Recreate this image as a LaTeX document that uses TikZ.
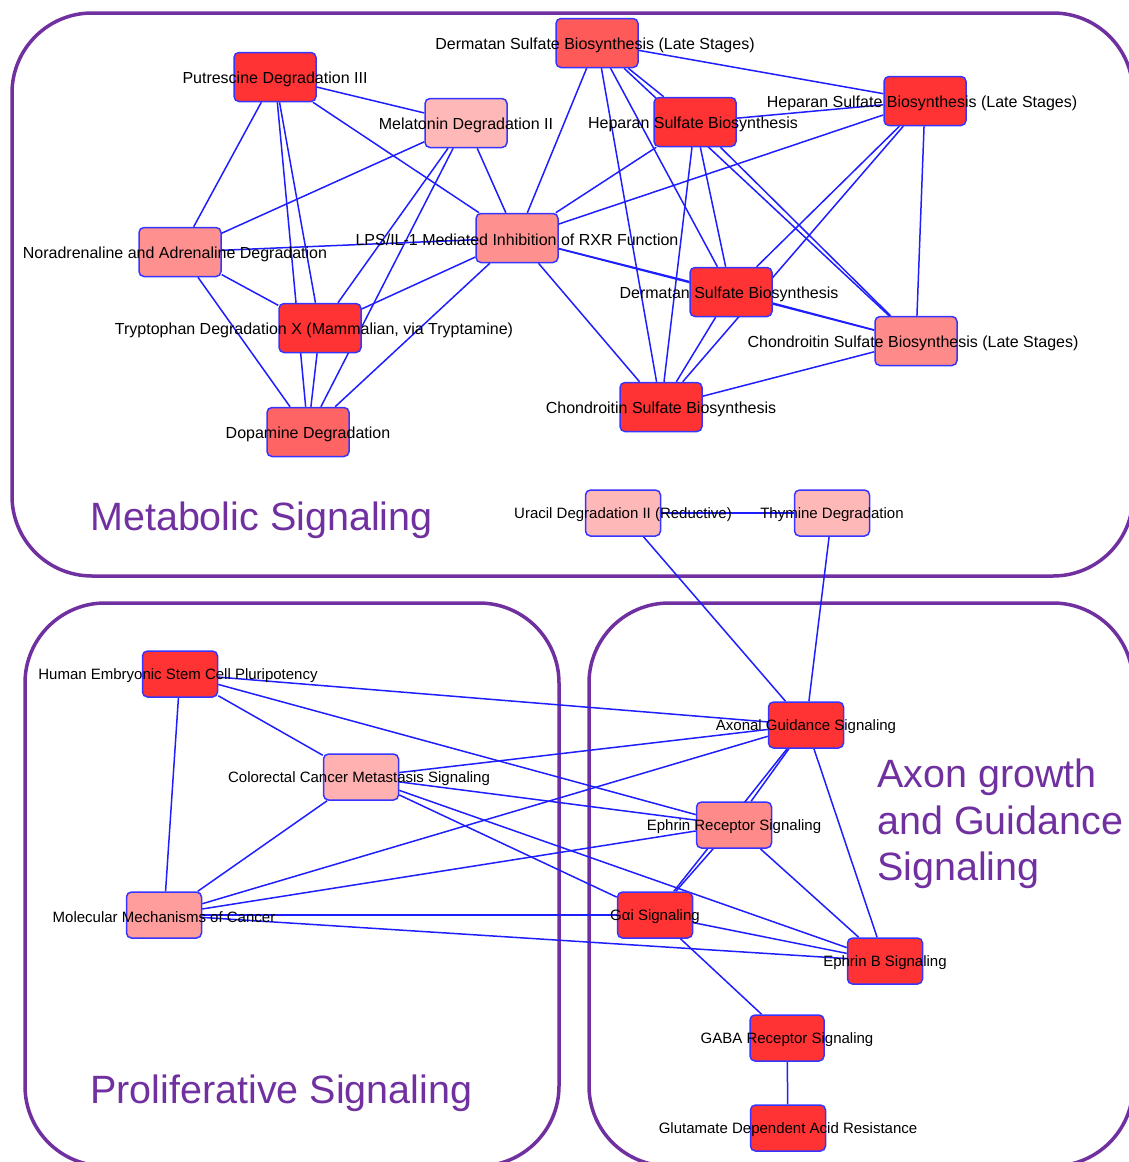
\documentclass[tikz,border=0pt]{standalone}
\usepackage{fontspec}
\setmainfont{Liberation Sans}
\usetikzlibrary{backgrounds}

\definecolor{grp}{HTML}{7030A0}
\definecolor{edgeblue}{HTML}{1E1EFF}
\definecolor{nodeborder}{HTML}{3535FF}
\definecolor{fHot}{HTML}{FF3333}
\definecolor{fWarm}{HTML}{FF5A5A}
\definecolor{fDopa}{HTML}{FF6464}
\definecolor{fMid}{HTML}{FF9090}
\definecolor{fMidB}{HTML}{FF8A8A}
\definecolor{fMidC}{HTML}{FF9C9C}
\definecolor{fPale}{HTML}{FFB8B8}
\definecolor{fPaleB}{HTML}{FFB0B0}

\tikzset{
  pbox/.style={draw=nodeborder, line width=1.5pt, rounded corners=5pt,
    inner sep=0pt},
  mbox/.style={pbox, minimum width=82pt, minimum height=49pt},
  sbox/.style={pbox, minimum width=75pt, minimum height=46pt},
  mlab/.style={inner sep=0pt, yshift=-2pt, font=\fontsize{16}{19}\selectfont},
  slab/.style={inner sep=0pt, yshift=-2pt, font=\fontsize{15}{18}\selectfont},
  edge/.style={draw=edgeblue, line width=1.5pt},
  grpbox/.style={draw=grp, line width=3.5pt, rounded corners=80pt},
  grptitle/.style={inner sep=0pt, text=grp, anchor=base west,
    font=\fontsize{39.5}{46}\selectfont},
}

\begin{document}
\begin{tikzpicture}[x=1pt,y=-1pt]
\useasboundingbox (0,0) rectangle (1128,1162);
\clip (0,0) rectangle (1128,1162);

% ---------- metabolic pathways ----------
\node[mbox, fill=fWarm, label={[mlab,xshift=-2pt]center:{Dermatan Sulfate Biosynthesis (Late Stages)}}] (dsl) at (597,43) {};
\node[mbox, fill=fHot, label={[mlab]center:{Putrescine Degradation III}}] (put) at (275,77) {};
\node[mbox, fill=fPale, label={[mlab]center:{Melatonin Degradation II}}] (mel) at (466,123) {};
\node[mbox, fill=fHot, label={[mlab,xshift=-2pt]center:{Heparan Sulfate Biosynthesis}}] (hs) at (695,122) {};
\node[mbox, fill=fHot, label={[mlab,xshift=-3pt]center:{Heparan Sulfate Biosynthesis (Late Stages)}}] (hsl) at (925,101) {};
\node[mbox, fill=fMid, label={[mlab]center:{LPS/IL-1 Mediated Inhibition of RXR Function}}] (lps) at (517,238) {};
\node[mbox, fill=fMid, label={[mlab,xshift=-5pt]center:{Noradrenaline and Adrenaline Degradation}}] (nor) at (180,252) {};
\node[mbox, fill=fHot, label={[mlab,xshift=-2pt]center:{Dermatan Sulfate Biosynthesis}}] (ds) at (731,292) {};
\node[mbox, fill=fHot, label={[mlab,xshift=-6pt]center:{Tryptophan Degradation X (Mammalian, via Tryptamine)}}] (trp) at (320,328) {};
\node[mbox, fill=fMidB, label={[mlab,xshift=-3pt]center:{Chondroitin Sulfate Biosynthesis (Late Stages)}}] (csl) at (916,341) {};
\node[mbox, fill=fHot, label={[mlab]center:{Chondroitin Sulfate Biosynthesis}}] (cs) at (661,407) {};
\node[mbox, fill=fDopa, label={[mlab]center:{Dopamine Degradation}}] (dop) at (308,432) {};
\node[sbox, fill=fPale, label={[slab]center:{Uracil Degradation II (Reductive)}}] (ura) at (623,513) {};
\node[sbox, fill=fPale, label={[slab]center:{Thymine Degradation}}] (thy) at (832,513) {};

% ---------- proliferative pathways ----------
\node[sbox, fill=fHot, label={[slab,xshift=-2pt]center:{Human Embryonic Stem Cell Pluripotency}}] (hesc) at (180,674) {};
\node[sbox, fill=fPaleB, label={[slab,xshift=-2pt]center:{Colorectal Cancer Metastasis Signaling}}] (col) at (361,777) {};
\node[sbox, fill=fMidC, label={[slab]center:{Molecular Mechanisms of Cancer}}] (mmc) at (164,915) {};

% ---------- axon growth and guidance pathways ----------
\node[sbox, fill=fHot, label={[slab]center:{Axonal Guidance Signaling}}] (ax) at (806,725) {};
\node[sbox, fill=fMidB, label={[slab]center:{Ephrin Receptor Signaling}}] (epr) at (734,825) {};
\node[sbox, fill=fHot, label={[slab]center:{Gαi Signaling}}] (gai) at (655,915) {};
\node[sbox, fill=fHot, label={[slab]center:{Ephrin B Signaling}}] (epb) at (885,961) {};
\node[sbox, fill=fHot, minimum width=74pt, label={[slab]center:{GABA Receptor Signaling}}] (gaba) at (787,1038) {};
\node[sbox, fill=fHot, label={[slab]center:{Glutamate Dependent Acid Resistance}}] (glu) at (788,1128) {};

% ---------- group titles ----------
\node[grptitle] (tmet) at (90,530) {Metabolic Signaling};
\node[grptitle] (tpro) at (90,1103) {Proliferative Signaling};
\node[grptitle] (tax1) at (877,787) {Axon growth};
\node[grptitle] (tax2) at (877,834) {and Guidance};
\node[grptitle] (tax3) at (877,880) {Signaling};

\begin{scope}[on background layer]
  % group outlines
  \draw[grpbox] (12,13) rectangle (1133,576);
  \draw[grpbox] (25,603) rectangle (559,1166);
  \draw[grpbox] (589,603) rectangle (1133,1166);

  % metabolic links
  \foreach \a/\b in {put/mel, put/lps, put/nor, put/trp, put/dop,
                     mel/nor, mel/lps, mel/trp, mel/dop,
                     nor/lps, nor/trp, nor/dop,
                     trp/dop,
                     lps/trp, lps/dop, lps/dsl, lps/hs, lps/hsl, lps/ds, lps/csl, lps/cs,
                     dsl/hsl, dsl/hs, dsl/csl, dsl/cs, dsl/ds,
                     hs/hsl, hs/ds, hs/cs, hs/csl,
                     hsl/ds, hsl/cs, hsl/csl,
                     ds/csl, ds/cs, csl/cs,
                     ura/ax, thy/ax}
    \draw[edge] (\a) -- (\b);
  \draw[edge, line width=2.6pt] (ura) -- (thy);

  % proliferative and guidance links
  \foreach \a/\b in {hesc/mmc, hesc/col, hesc/ax, hesc/epr,
                     col/ax, col/epr, col/gai, col/epb, col/mmc,
                     mmc/ax, mmc/epr, mmc/gai, mmc/epb,
                     ax/epr, ax/gai, ax/epb,
                     epr/gai, epr/epb,
                     gai/epb, gai/gaba, gaba/glu}
    \draw[edge] (\a) -- (\b);
\end{scope}
\end{tikzpicture}
\end{document}
